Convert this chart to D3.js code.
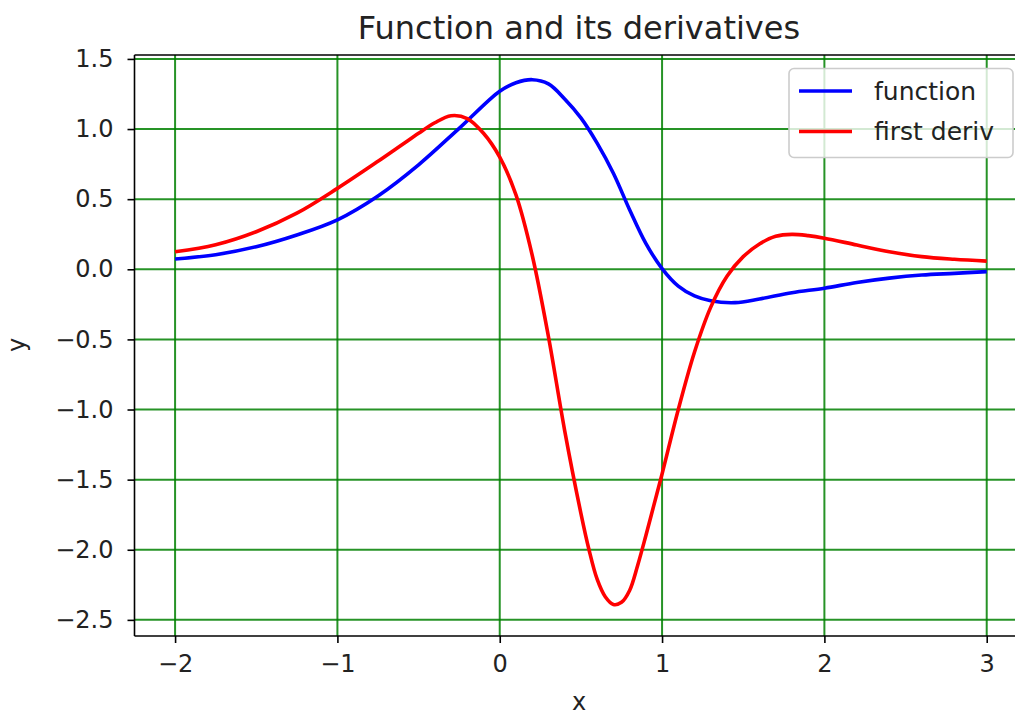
<!DOCTYPE html>
<html>
<head>
<meta charset="utf-8">
<script src="https://cdn.jsdelivr.net/npm/d3@7"></script>
<style>
  html, body { margin: 0; padding: 0; background: #fff; }
  svg { display: block; font-family: "DejaVu Sans", sans-serif; }
</style>
</head>
<body>
<svg id="chart" width="1015" height="717"></svg>
<script>
// ---- data ----
const functionX = [-2, -1.75, -1.5, -1.25, -1, -0.75, -0.5, -0.25, 0, 0.1, 0.2, 0.3, 0.4, 0.5, 0.6, 0.7, 0.8, 0.9, 1.0, 1.1, 1.2, 1.3, 1.45, 1.6, 1.8, 2.0, 2.2, 2.4, 2.6, 2.8, 3.0];
const functionY = [0.073, 0.104, 0.161, 0.245, 0.353, 0.523, 0.745, 1.005, 1.27, 1.33, 1.352, 1.322, 1.215, 1.08, 0.90, 0.685, 0.425, 0.185, 0.005, -0.12, -0.19, -0.225, -0.238, -0.212, -0.167, -0.135, -0.094, -0.063, -0.041, -0.029, -0.017];

const derivX = [-2, -1.75, -1.5, -1.25, -1, -0.75, -0.6, -0.5, -0.4, -0.3, -0.2, -0.1, 0, 0.1, 0.2, 0.3, 0.4, 0.5, 0.55, 0.6, 0.65, 0.7, 0.75, 0.8, 0.85, 0.9, 0.95, 1.0, 1.1, 1.2, 1.3, 1.4, 1.5, 1.6, 1.7, 1.8, 1.9, 2.0, 2.2, 2.4, 2.6, 2.8, 3.0];
const derivY = [0.125, 0.175, 0.268, 0.40, 0.577, 0.77, 0.89, 0.97, 1.045, 1.095, 1.075, 0.97, 0.80, 0.53, 0.10, -0.48, -1.15, -1.74, -2.0, -2.21, -2.335, -2.39, -2.375, -2.29, -2.11, -1.90, -1.68, -1.46, -1.00, -0.59, -0.27, -0.05, 0.09, 0.18, 0.235, 0.249, 0.24, 0.222, 0.173, 0.125, 0.09, 0.071, 0.058];

const xTicks = [-2, -1, 0, 1, 2, 3];
const yTicks = [1.5, 1.0, 0.5, 0.0, -0.5, -1.0, -1.5, -2.0, -2.5];
const seriesNames = ["function", "first deriv"];
const seriesColors = ["#0000ff", "#ff0000"];
const titleText = "Function and its derivatives";
const xLabel = "x";
const yLabel = "y";

// ---- layout ----
const svg = d3.select("#chart");
const pLeft = 134.5, pRight = 1027.3, pTop = 55, pBottom = 636;

const x = d3.scaleLinear().domain([-2.25, 3.25]).range([pLeft, pRight]);
const y = d3.scaleLinear().domain([-2.615, 1.528]).range([pBottom, pTop]);

const fmtY = v => (v < 0 ? "\u2212" : "") + Math.abs(v).toFixed(1);
const fmtX = v => (v < 0 ? "\u2212" : "") + Math.abs(v);

svg.append("defs").append("clipPath").attr("id", "plotclip")
  .append("rect").attr("x", pLeft).attr("y", pTop).attr("width", pRight - pLeft).attr("height", pBottom - pTop);

// grid
const grid = svg.append("g").attr("clip-path", "url(#plotclip)");
grid.selectAll("line.gx").data(xTicks).join("line").attr("class", "gx")
  .attr("x1", d => x(d)).attr("x2", d => x(d)).attr("y1", pTop).attr("y2", pBottom)
  .attr("stroke", "#008000").attr("stroke-width", 2).attr("stroke-opacity", 0.85);
grid.selectAll("line.gy").data(yTicks).join("line").attr("class", "gy")
  .attr("y1", d => y(d)).attr("y2", d => y(d)).attr("x1", pLeft).attr("x2", pRight)
  .attr("stroke", "#008000").attr("stroke-width", 2).attr("stroke-opacity", 0.85);

// axes via d3
const xAxis = d3.axisBottom(x).tickValues(xTicks).tickFormat(fmtX).tickSize(7).tickPadding(6);
const yAxis = d3.axisLeft(y).tickValues(yTicks).tickFormat(fmtY).tickSize(7).tickPadding(14);

const gx = svg.append("g").attr("transform", `translate(0,${pBottom})`).call(xAxis);
const gy = svg.append("g").attr("transform", `translate(${pLeft},0)`).call(yAxis);
[gx, gy].forEach(g => {
  g.select(".domain").remove();
  g.selectAll(".tick line").attr("stroke", "#000").attr("stroke-width", 1.6);
  g.selectAll(".tick text").attr("fill", "#222").style("font-size", "24px").style("font-family", "DejaVu Sans");
});
gx.selectAll(".tick text").attr("dy", "0.95em");

// lines
const line = d3.line().x(d => x(d[0])).y(d => y(d[1])).curve(d3.curveCatmullRom.alpha(0.5));
const plot = svg.append("g").attr("clip-path", "url(#plotclip)");
const series = [d3.zip(functionX, functionY), d3.zip(derivX, derivY)];
plot.selectAll("path.series").data(series).join("path").attr("class", "series")
  .attr("d", line).attr("fill", "none")
  .attr("stroke", (d, i) => seriesColors[i]).attr("stroke-width", 3.6)
  .attr("stroke-linejoin", "round");

// spines
const spine = (x1, y1, x2, y2) => svg.append("line").attr("x1", x1).attr("y1", y1).attr("x2", x2).attr("y2", y2)
  .attr("stroke", "#000").attr("stroke-width", 1.6);
spine(pLeft, pTop, pLeft, pBottom);
spine(pLeft, pBottom, pRight, pBottom);
spine(pLeft, pTop, pRight, pTop);
spine(pRight, pTop, pRight, pBottom);

// title & labels
svg.append("text").attr("x", 579).attr("y", 38.5).attr("text-anchor", "middle")
  .style("font-size", "32px").attr("fill", "#222").text(titleText);
svg.append("text").attr("x", 579).attr("y", 710).attr("text-anchor", "middle")
  .style("font-size", "24px").attr("fill", "#222").text(xLabel);
svg.append("text").attr("transform", "translate(25,345) rotate(-90)").attr("text-anchor", "middle")
  .style("font-size", "24px").attr("fill", "#222").text(yLabel);

// legend
const lg = svg.append("g");
lg.append("rect").attr("x", 789).attr("y", 68.5).attr("width", 224).attr("height", 89).attr("rx", 5)
  .attr("fill", "#fff").attr("fill-opacity", 0.8).attr("stroke", "#cccccc").attr("stroke-width", 1.6);
const rows = lg.selectAll("g.row").data(seriesNames).join("g").attr("class", "row")
  .attr("transform", (d, i) => `translate(0,${91 + i * 40.5})`);
rows.append("line").attr("x1", 799).attr("x2", 852).attr("y1", 0).attr("y2", 0)
  .attr("stroke", (d, i) => seriesColors[i]).attr("stroke-width", 3.6);
rows.append("text").attr("x", 874).attr("y", 0).attr("dy", "0.35em")
  .style("font-size", "25px").attr("fill", "#222").text(d => d);
</script>
</body>
</html>
